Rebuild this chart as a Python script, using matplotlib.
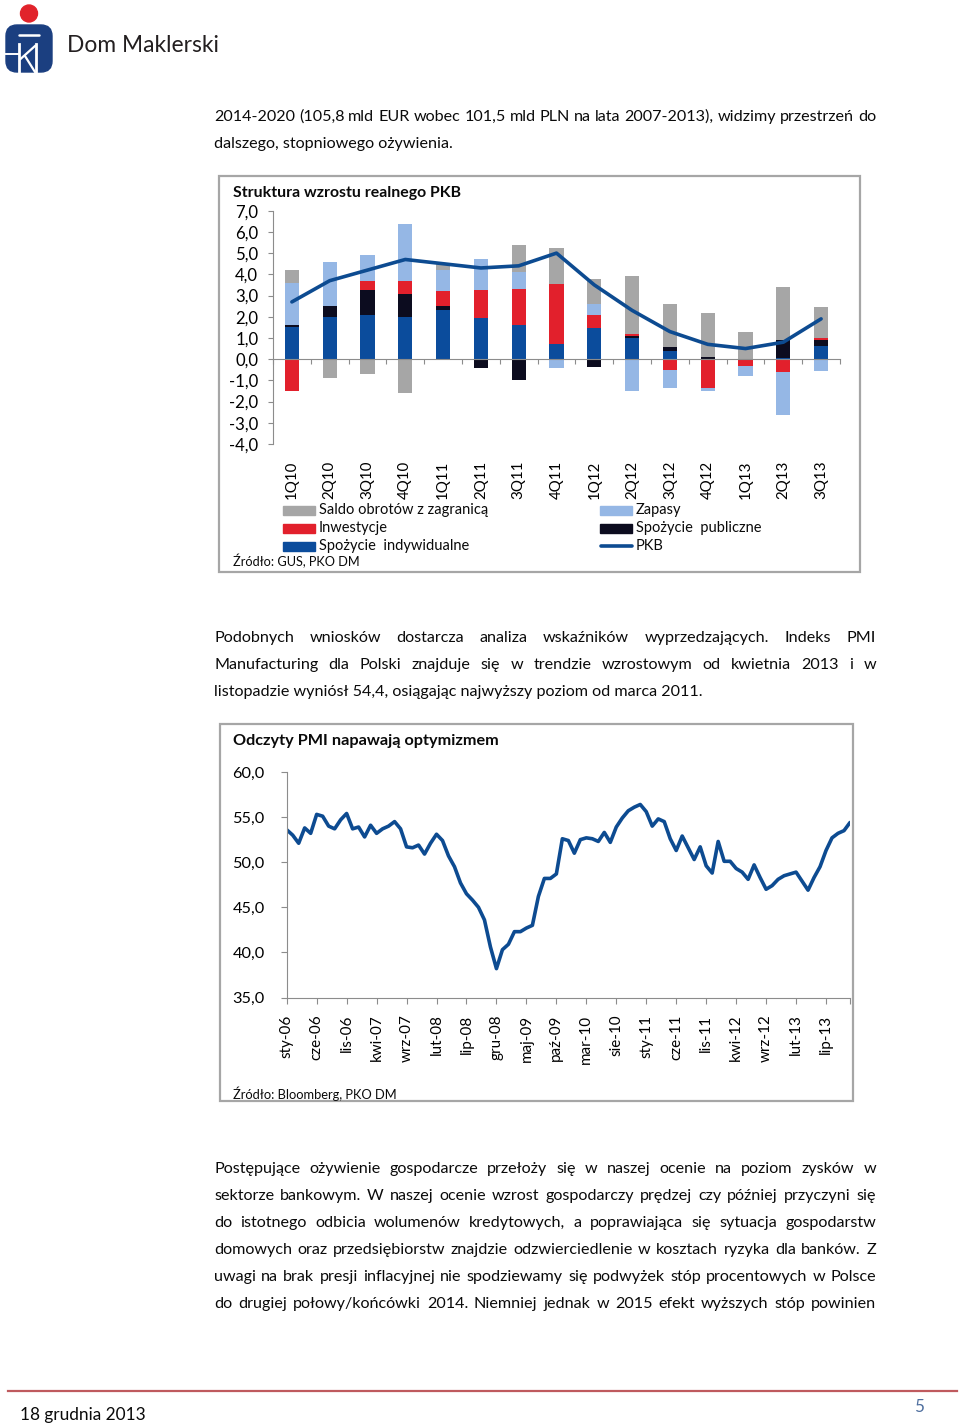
import numpy as np
import matplotlib
matplotlib.use('Agg')
import matplotlib.pyplot as plt
from matplotlib.patches import Rectangle, Circle, FancyBboxPatch

plt.rcParams['font.family'] = ['Lato', 'DejaVu Sans']

# ---------------- data ----------------
gdp_quarters = ['1Q10', '2Q10', '3Q10', '4Q10', '1Q11', '2Q11', '3Q11', '4Q11',
                '1Q12', '2Q12', '3Q12', '4Q12', '1Q13', '2Q13', '3Q13']
spozycie_indywidualne = [1.5, 2.0, 2.1, 2.0, 2.3, 1.95, 1.6, 0.7, 1.45, 1.0, 0.4, 0.0, 0.0, 0.05, 0.6]
spozycie_publiczne = [0.1, 0.5, 1.15, 1.05, 0.2, -0.4, -1.0, -0.05, -0.35, 0.1, 0.15, 0.1, 0.0, 0.85, 0.3]
inwestycje = [-1.5, 0.0, 0.45, 0.65, 0.7, 1.3, 1.7, 2.85, 0.65, 0.1, -0.5, -1.35, -0.3, -0.6, 0.1]
zapasy = [2.0, 2.1, 1.2, 2.65, 1.0, 1.45, 0.8, -0.35, 0.5, -1.5, -0.85, -0.15, -0.5, -2.05, -0.55]
saldo = [0.6, -0.9, -0.7, -1.6, 0.3, 0.0, 1.3, 1.7, 1.2, 2.7, 2.05, 2.1, 1.3, 2.5, 1.45]
pkb = [2.7, 3.7, 4.2, 4.7, 4.5, 4.3, 4.4, 5.0, 3.5, 2.3, 1.3, 0.7, 0.5, 0.8, 1.9]
gdp_yticks = [-4, -3, -2, -1, 0, 1, 2, 3, 4, 5, 6, 7]

# PMI monthly, sty-06 .. lis-13
pmi = [53.6, 53.0, 52.1, 53.8, 53.2, 55.3, 55.1, 54.0, 53.7, 54.7,
       55.4, 53.7, 53.9, 52.8, 54.1, 53.2, 53.7, 54.0, 54.5, 53.7,
       51.7, 51.6, 51.9, 50.9, 52.1, 53.1, 52.4, 50.7, 49.5, 47.7,
       46.5, 45.8, 45.0, 43.6, 40.6, 38.2, 40.3, 40.9, 42.3, 42.3,
       42.7, 43.0, 46.2, 48.2, 48.2, 48.7, 52.6, 52.4, 51.0, 52.5,
       52.7, 52.6, 52.3, 53.3, 52.2, 53.9, 54.9, 55.7, 56.1, 56.4,
       55.6, 54.0, 54.8, 54.5, 52.6, 51.3, 52.9, 51.6, 50.3, 51.7,
       49.6, 48.8, 52.3, 50.1, 50.1, 49.3, 48.9, 48.1, 49.7, 48.3,
       47.0, 47.4, 48.1, 48.5, 48.7, 48.9, 47.9, 46.9, 48.3, 49.5,
       51.3, 52.7, 53.2, 53.5, 54.4]
pmi_tick_labels = ['sty-06', 'cze-06', 'lis-06', 'kwi-07', 'wrz-07', 'lut-08', 'lip-08',
                   'gru-08', 'maj-09', 'paź-09', 'mar-10', 'sie-10', 'sty-11', 'cze-11',
                   'lis-11', 'kwi-12', 'wrz-12', 'lut-13', 'lip-13']
pmi_label_step = 5
pmi_yticks = [35, 40, 45, 50, 55, 60]

# ---------------- styles ----------------
C_SALDO = '#a6a6a6'
C_INW = '#e2202c'
C_IND = '#0b4c9c'
C_ZAP = '#95b7e5'
C_PUB = '#0c0c1f'
C_LINE = '#0d4b91'
C_AXIS = '#8c8c8c'
C_FRAME = '#a6a6a6'
C_TEXT = '#0a0a0a'

W, H = 960, 1426
fig = plt.figure(figsize=(W / 100, H / 100), dpi=100)
renderer = fig.canvas.get_renderer()


def fx(x):
    return x / W


def fy(y):
    return 1 - y / H


def text_width(s, size, weight='normal'):
    t = fig.text(0, 0, s, fontsize=size, fontweight=weight)
    w = t.get_window_extent(renderer).width
    t.remove()
    return w


def fit(s, width_px, weight='normal'):
    return 10 * width_px / text_width(s, 10, weight)


page = fig.add_axes([0, 0, 1, 1], zorder=0)
page.set_xlim(0, W)
page.set_ylim(H, 0)
page.axis('off')

# ---------------- header / logo ----------------
page.add_patch(Circle((29, 13.5), 8.5, color='#e1232b'))
page.add_patch(FancyBboxPatch((6, 25), 46, 47, boxstyle='round,pad=0,rounding_size=11',
                              color='#1b3f80'))
page.plot([19, 39], [35, 35], color='white', lw=1.8, solid_capstyle='round')
page.plot([19, 19], [44, 72], color='white', lw=2.0)
page.plot([36, 36], [44, 72], color='white', lw=2.0)
page.plot([20.5, 35], [59, 46], color='white', lw=1.6)
page.plot([25, 35], [56, 72], color='white', lw=1.6)
page.plot([6, 19], [54, 54], color='white', lw=1.4)
page.text(67, 45, 'Dom Maklerski', fontsize=fit('Dom Maklerski', 152), color='#231f20',
          va='center', ha='left')

# ---------------- body text ----------------
BODY = fit('listopadzie wyniósł 54,4, osiągając najwyższy poziom od marca 2011.', 490)
X0, X1 = 214, 876


def body_line(line, y, justify=True):
    if not justify:
        page.text(X0, y, line, fontsize=BODY, va='baseline', ha='left', color=C_TEXT)
        return
    words = line.split(' ')
    widths = [text_width(w, BODY) for w in words]
    gap = (X1 - X0 - sum(widths)) / (len(words) - 1)
    x = X0
    for w, wd in zip(words, widths):
        page.text(x, y, w, fontsize=BODY, va='baseline', ha='left', color=C_TEXT)
        x += wd + gap


body_line('2014-2020 (105,8 mld EUR wobec 101,5 mld PLN na lata 2007-2013), widzimy przestrzeń do', 121)
body_line('dalszego, stopniowego ożywienia.', 148, False)

body_line('Podobnych wniosków dostarcza analiza wskaźników wyprzedzających. Indeks PMI', 642)
body_line('Manufacturing dla Polski znajduje się w trendzie wzrostowym od kwietnia 2013 i w', 669)
body_line('listopadzie wyniósł 54,4, osiągając najwyższy poziom od marca 2011.', 696, False)

para3 = ['Postępujące ożywienie gospodarcze przełoży się w naszej ocenie na poziom zysków w',
         'sektorze bankowym. W naszej ocenie wzrost gospodarczy prędzej czy później przyczyni się',
         'do istotnego odbicia wolumenów kredytowych, a poprawiająca się sytuacja gospodarstw',
         'domowych oraz przedsiębiorstw znajdzie odzwierciedlenie w kosztach ryzyka dla banków. Z',
         'uwagi na brak presji inflacyjnej nie spodziewamy się podwyżek stóp procentowych w Polsce',
         'do drugiej połowy/końcówki 2014. Niemniej jednak w 2015 efekt wyższych stóp powinien']
for i, ln in enumerate(para3):
    body_line(ln, 1173 + 27 * i)

# ---------------- footer ----------------
page.plot([8, 957], [1391, 1391], color='#bf5a5e', lw=1.6)
page.text(20, 1415, '18 grudnia 2013', fontsize=fit('18 grudnia 2013', 126), va='center',
          ha='left', color=C_TEXT)
page.text(925, 1407, '5', fontsize=BODY * 1.05, va='center', ha='right', color='#4f6f9f')

# ---------------- chart frames ----------------
page.add_patch(Rectangle((219, 176), 641, 396, fill=False, ec=C_FRAME, lw=1.6))
page.add_patch(Rectangle((220, 724), 633, 377, fill=False, ec=C_FRAME, lw=1.6))

# ---------------- chart 1: GDP structure ----------------
TICK1 = fit('7,0', 23)
XT1 = fit('1Q10', 38)
page.text(233, 193, 'Struktura wzrostu realnego PKB',
          fontsize=fit('Struktura wzrostu realnego PKB', 229, 'bold'), fontweight='bold',
          va='center', ha='left', color=C_TEXT)

ax1 = fig.add_axes([fx(273), fy(444), fx(840) - fx(273), (444 - 210.7) / H], zorder=2)
ax1.set_facecolor('none')
x = np.arange(len(gdp_quarters))
pos_base = np.zeros(len(x))
neg_base = np.zeros(len(x))
for vals, col in [(spozycie_indywidualne, C_IND), (spozycie_publiczne, C_PUB),
                  (inwestycje, C_INW), (zapasy, C_ZAP), (saldo, C_SALDO)]:
    v = np.array(vals, dtype=float)
    b = np.where(v >= 0, pos_base, neg_base)
    ax1.bar(x, v, width=0.38, bottom=b, color=col, zorder=2)
    pos_base += np.clip(v, 0, None)
    neg_base += np.clip(v, None, 0)
ax1.plot(x, pkb, color=C_LINE, lw=2.6, solid_joinstyle='round', solid_capstyle='round', zorder=3)

ax1.set_xlim(-0.5, len(x) - 0.5)
ax1.set_ylim(gdp_yticks[0], gdp_yticks[-1])
ax1.set_yticks(gdp_yticks)
ax1.set_yticklabels([f'{v:.1f}'.replace('.', ',') for v in gdp_yticks], fontsize=TICK1)
ax1.spines['top'].set_visible(False)
ax1.spines['right'].set_visible(False)
ax1.spines['left'].set_color(C_AXIS)
ax1.spines['bottom'].set_color(C_AXIS)
ax1.spines['bottom'].set_position(('data', 0))
ax1.set_xticks(np.arange(-0.5, len(x), 1.0))
ax1.set_xticklabels([])
ax1.tick_params(axis='y', direction='out', length=3.6, width=0.8, color=C_AXIS, pad=7)
ax1.tick_params(axis='x', direction='out', length=3.6, width=0.8, color=C_AXIS)
sec = ax1.secondary_xaxis('bottom')
sec.set_xticks(x)
sec.set_xticklabels(gdp_quarters, rotation=90, fontsize=XT1)
sec.spines['bottom'].set_visible(False)
sec.tick_params(length=0, pad=12)

# legend (manual layout)
LEG = fit('Saldo obrotów z zagranicą', 169)
leg_items = [((283, 510), 'Saldo obrotów z zagranicą', C_SALDO, 'patch'),
             ((283, 528), 'Inwestycje', C_INW, 'patch'),
             ((283, 546), 'Spożycie  indywidualne', C_IND, 'patch'),
             ((600, 510), 'Zapasy', C_ZAP, 'patch'),
             ((600, 528), 'Spożycie  publiczne', C_PUB, 'patch'),
             ((600, 546), 'PKB', C_LINE, 'line')]
for (lx, ly), lab, col, kind in leg_items:
    if kind == 'patch':
        page.add_patch(Rectangle((lx, ly - 4.5), 32, 9, color=col))
    else:
        page.plot([lx + 1, lx + 32], [ly, ly], color=col, lw=2.6, solid_capstyle='round')
    page.text(lx + 36, ly, lab, fontsize=LEG, va='center', ha='left', color=C_TEXT)
page.text(233, 561, 'Źródło: GUS, PKO DM', fontsize=fit('Źródło: GUS, PKO DM', 127),
          va='center', ha='left', color=C_TEXT)

# ---------------- chart 2: PMI ----------------
page.text(233, 741, 'Odczyty PMI napawają optymizmem',
          fontsize=fit('Odczyty PMI napawają optymizmem', 265, 'bold'), fontweight='bold',
          va='center', ha='left', color=C_TEXT)
ax2 = fig.add_axes([fx(286.7), fy(997.5), fx(850) - fx(286.7), (997.5 - 772) / H], zorder=2)
ax2.set_facecolor('none')
xm = np.arange(len(pmi))
ax2.plot(xm, pmi, color=C_LINE, lw=2.6, solid_joinstyle='round', solid_capstyle='round')
ax2.set_xlim(0, len(pmi) - 1)
ax2.set_ylim(pmi_yticks[0], pmi_yticks[-1])
ax2.set_yticks(pmi_yticks)
ax2.set_yticklabels([f'{v:.1f}'.replace('.', ',') for v in pmi_yticks],
                    fontsize=fit('60,0', 32))
ax2.set_xticks(np.arange(0, len(pmi), pmi_label_step))
ax2.set_xticklabels(pmi_tick_labels, rotation=90, fontsize=fit('sty-06', 43))
ax2.set_xticks([len(pmi) - 1], minor=True)
for s in ['top', 'right']:
    ax2.spines[s].set_visible(False)
for s in ['left', 'bottom']:
    ax2.spines[s].set_color(C_AXIS)
ax2.tick_params(axis='both', which='both', direction='out', length=4.3, width=0.8, color=C_AXIS)
ax2.tick_params(axis='y', pad=11.5)
ax2.tick_params(axis='x', pad=8)
page.text(233, 1094, 'Źródło: Bloomberg, PKO DM',
          fontsize=fit('Źródło: Bloomberg, PKO DM', 165), va='center', ha='left', color=C_TEXT)

fig.savefig('out.png', dpi=100)
